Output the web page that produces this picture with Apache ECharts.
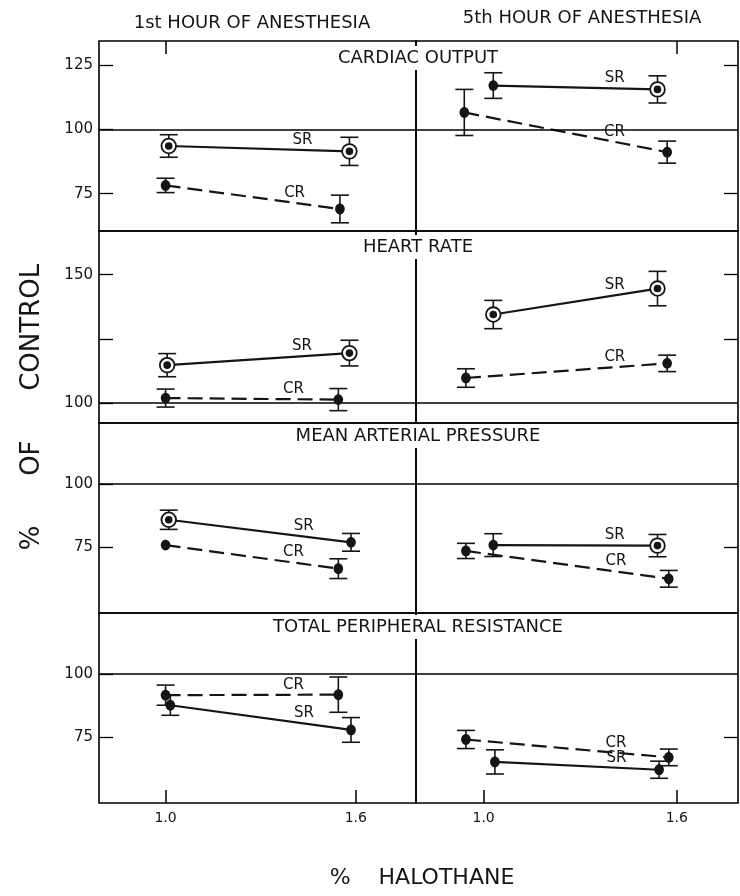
<!DOCTYPE html>
<html><head><meta charset="utf-8">
<script src="https://cdn.jsdelivr.net/npm/echarts@6/dist/echarts.min.js"></script>
<style>html,body{margin:0;padding:0;background:#fff}#c{width:740px;height:896px}</style>
</head><body><div id="c"></div>
<script>
// ---------------- data ----------------
const hourTitles = ['1st HOUR OF ANESTHESIA', '5th HOUR OF ANESTHESIA'];
const panelTitles = ['CARDIAC OUTPUT', 'HEART RATE', 'MEAN ARTERIAL PRESSURE', 'TOTAL PERIPHERAL RESISTANCE'];
const xTickValues = [1.0, 1.6];
const yLabelValues = [[75, 100, 125], [100, 150], [75, 100], [75, 100]];
const yTickValues = [[75, 100, 125], [100, 125, 150], [75, 100], [75, 100]];
const yRightTickValues = [[75, 125], [125, 150], [75], [75]];
const seriesNames = ['SR', 'CR'];

// each array: [1st hour [at 1.0, at 1.6], 5th hour [at 1.0, at 1.6]]
// Cardiac output
const coSRx = [[1.01, 1.58], [1.03, 1.54]];
const coSR = [[93.6, 91.5], [117.2, 115.7]];
const coSRErr = [[4.4, 5.5], [5.0, 5.3]];
const coSRRing = [[1, 1], [0, 1]];
const coCRx = [[1.00, 1.55], [0.94, 1.57]];
const coCR = [[78.2, 69.0], [106.7, 91.2]];
const coCRErr = [[2.8, 5.4], [9.0, 4.3]];
const coCRRing = [[0, 0], [0, 0]];
// Heart rate
const hrSRx = [[1.005, 1.58], [1.03, 1.54]];
const hrSR = [[114.8, 119.5], [134.5, 144.6]];
const hrSRErr = [[4.5, 5.0], [5.5, 6.7]];
const hrSRRing = [[1, 1], [1, 1]];
const hrCRx = [[1.00, 1.545], [0.945, 1.57]];
const hrCR = [[102.0, 101.4], [109.8, 115.5]];
const hrCRErr = [[3.5, 4.3], [3.6, 3.2]];
const hrCRRing = [[0, 0], [0, 0]];
// Mean arterial pressure
const mapSRx = [[1.01, 1.585], [1.03, 1.54]];
const mapSR = [[85.9, 77.0], [75.9, 75.7]];
const mapSRErr = [[3.8, 3.5], [4.5, 4.4]];
const mapSRRing = [[1, 0], [0, 1]];
const mapCRx = [[1.00, 1.545], [0.945, 1.575]];
const mapCR = [[75.9, 66.6], [73.6, 62.6]];
const mapCRErr = [[0, 3.9], [3.0, 3.3]];
const mapCRRing = [[0, 0], [0, 0]];
// Total peripheral resistance
const tprSRx = [[1.015, 1.585], [1.035, 1.545]];
const tprSR = [[87.6, 77.8], [65.1, 62.0]];
const tprSRErr = [[4.0, 4.9], [4.8, 3.4]];
const tprSRRing = [[0, 0], [0, 0]];
const tprCRx = [[1.00, 1.545], [0.945, 1.575]];
const tprCR = [[91.6, 91.8], [74.0, 66.9]];
const tprCRErr = [[4.0, 7.0], [3.6, 3.3]];
const tprCRRing = [[0, 0], [0, 0]];

// ---------------- layout ----------------
const FONT = 'DejaVu Sans';
const INK = '#151515';
const yRanges = [[60.4, 134.6], [92.3, 167.0], [49.1, 124.1], [48.8, 124.2]];
const rowTops = [41, 231, 423, 613];
const rowHeights = [190, 192, 190, 190];
const colLefts = [99, 416];
const colWidths = [317, 322];
const panelTitleY = [58, 247, 436, 627];

const metrics = [
  {SRx: coSRx, SR: coSR, SRErr: coSRErr, SRRing: coSRRing, CRx: coCRx, CR: coCR, CRErr: coCRErr, CRRing: coCRRing},
  {SRx: hrSRx, SR: hrSR, SRErr: hrSRErr, SRRing: hrSRRing, CRx: hrCRx, CR: hrCR, CRErr: hrCRErr, CRRing: hrCRRing},
  {SRx: mapSRx, SR: mapSR, SRErr: mapSRErr, SRRing: mapSRRing, CRx: mapCRx, CR: mapCR, CRErr: mapCRErr, CRRing: mapCRRing},
  {SRx: tprSRx, SR: tprSR, SRErr: tprSRErr, SRRing: tprSRRing, CRx: tprCRx, CR: tprCR, CRErr: tprCRErr, CRRing: tprCRRing}
];

const grids = [], xAxes = [], yAxes = [], series = [];

function markerRender(params, api) {
  const x = api.value(0), y = api.value(1), e = api.value(2), ring = api.value(3);
  const c = api.coord([x, y]);
  const children = [];
  if (e > 0) {
    const t = api.coord([x, y + e]), b = api.coord([x, y - e]);
    const ls = {stroke: INK, lineWidth: 1.6};
    children.push({type: 'line', shape: {x1: c[0], y1: t[1], x2: c[0], y2: b[1]}, style: ls});
    children.push({type: 'line', shape: {x1: c[0] - 9, y1: t[1], x2: c[0] + 9, y2: t[1]}, style: ls});
    children.push({type: 'line', shape: {x1: c[0] - 9, y1: b[1], x2: c[0] + 9, y2: b[1]}, style: ls});
  }
  if (ring) {
    children.push({type: 'circle', shape: {cx: c[0], cy: c[1], r: 7.3}, style: {fill: '#fff', stroke: INK, lineWidth: 1.8}});
    children.push({type: 'circle', shape: {cx: c[0], cy: c[1], r: 3.8}, style: {fill: INK}});
  } else {
    children.push({type: 'ellipse', shape: {cx: c[0], cy: c[1], rx: 4.8, ry: 5.4}, style: {fill: INK}});
  }
  return {type: 'group', children};
}

function labelRender(params, api) {
  const p0 = api.coord([api.value(0), api.value(1)]);
  const p1 = api.coord([api.value(2), api.value(3)]);
  const t = 0.74;
  return {
    type: 'text',
    x: p0[0] + t * (p1[0] - p0[0]),
    y: p0[1] + t * (p1[1] - p0[1]) - 10,
    style: {text: seriesNames[params.dataIndex], font: '15px "' + FONT + '"', fill: INK, align: 'center', verticalAlign: 'middle'}
  };
}

for (let row = 0; row < 4; row++) {
  const m = metrics[row];
  for (let col = 0; col < 2; col++) {
    const g = row * 2 + col;
    grids.push({left: colLefts[col], top: rowTops[row], width: colWidths[col], height: rowHeights[row],
      show: true, borderColor: '#000', borderWidth: 1.6, backgroundColor: 'transparent'});
    xAxes.push({
      gridIndex: g, type: 'value', min: 0.79, max: 1.79,
      position: row === 0 ? 'top' : 'bottom',
      show: row === 0 || row === 3,
      axisLine: {show: false}, splitLine: {show: false},
      axisTick: {show: true, inside: true, length: 13,
        customValues: row === 3 ? xTickValues : (col === 0 ? [xTickValues[0]] : [xTickValues[1]]),
        lineStyle: {color: '#000', width: 1.5}},
      axisLabel: {show: row === 3, customValues: xTickValues, margin: 8,
        formatter: v => v.toFixed(1), fontFamily: FONT, fontSize: 14, color: INK}
    });
    yAxes.push({
      gridIndex: g, type: 'value', min: yRanges[row][0], max: yRanges[row][1],
      position: col === 0 ? 'left' : 'right',
      axisLine: {show: false}, splitLine: {show: false},
      axisTick: {show: true, inside: true, length: 14,
        customValues: col === 0 ? yTickValues[row] : yRightTickValues[row],
        lineStyle: {color: '#000', width: 1.3}},
      axisLabel: {show: col === 0, customValues: yLabelValues[row], margin: 6,
        fontFamily: FONT, fontSize: 15, color: INK}
    });
    const sr = m.SRx[col].map((x, i) => [x, m.SR[col][i]]);
    const cr = m.CRx[col].map((x, i) => [x, m.CR[col][i]]);
    series.push({
      type: 'line', xAxisIndex: g, yAxisIndex: g, data: sr, symbol: 'none', silent: true,
      lineStyle: {color: INK, width: 2.2, type: 'solid'}, z: 2,
      markLine: {silent: true, symbol: 'none', label: {show: false},
        lineStyle: {color: '#000', width: 1.6, type: 'solid'}, data: [{yAxis: 100}]}
    });
    series.push({
      type: 'line', xAxisIndex: g, yAxisIndex: g, data: cr, symbol: 'none', silent: true,
      lineStyle: {color: INK, width: 2.2, type: [15, 7]}, z: 2
    });
    const markers = [];
    m.SRx[col].forEach((x, i) => markers.push([x, m.SR[col][i], m.SRErr[col][i], m.SRRing[col][i]]));
    m.CRx[col].forEach((x, i) => markers.push([x, m.CR[col][i], m.CRErr[col][i], m.CRRing[col][i]]));
    series.push({type: 'custom', xAxisIndex: g, yAxisIndex: g, data: markers,
      encode: {x: 0, y: 1}, renderItem: markerRender, z: 5, silent: true, clip: false});
    series.push({type: 'custom', xAxisIndex: g, yAxisIndex: g,
      data: [[sr[0][0], sr[0][1], sr[1][0], sr[1][1]], [cr[0][0], cr[0][1], cr[1][0], cr[1][1]]],
      encode: {x: 0, y: 1}, renderItem: labelRender, z: 6, silent: true, clip: false});
  }
}

const graphics = [];
const hourPos = [[252, 23], [582, 18]];
hourTitles.forEach((t, i) => graphics.push({type: 'text', x: hourPos[i][0], y: hourPos[i][1], z: 100,
  style: {text: t, font: '18px "' + FONT + '"', fill: INK, align: 'center', verticalAlign: 'middle'}}));
panelTitles.forEach((t, i) => graphics.push({type: 'text', x: 418, y: panelTitleY[i], z: 100,
  style: {text: t, font: '18px "' + FONT + '"', fill: INK, align: 'center', verticalAlign: 'middle',
    backgroundColor: '#fff', padding: [3, 5]}}));
graphics.push({type: 'text', x: 32, y: 407, rotation: Math.PI / 2, z: 100,
  style: {text: '%      OF      CONTROL', font: '26px "' + FONT + '"', fill: INK, align: 'center', verticalAlign: 'middle'}});
graphics.push({type: 'text', x: 422, y: 878, z: 100,
  style: {text: '%    HALOTHANE', font: '22px "' + FONT + '"', fill: INK, align: 'center', verticalAlign: 'middle'}});

const chart = echarts.init(document.getElementById('c'), null, {renderer: 'canvas'});
chart.setOption({
  animation: false,
  backgroundColor: '#fff',
  grid: grids, xAxis: xAxes, yAxis: yAxes, series: series, graphic: graphics
});
</script></body></html>
